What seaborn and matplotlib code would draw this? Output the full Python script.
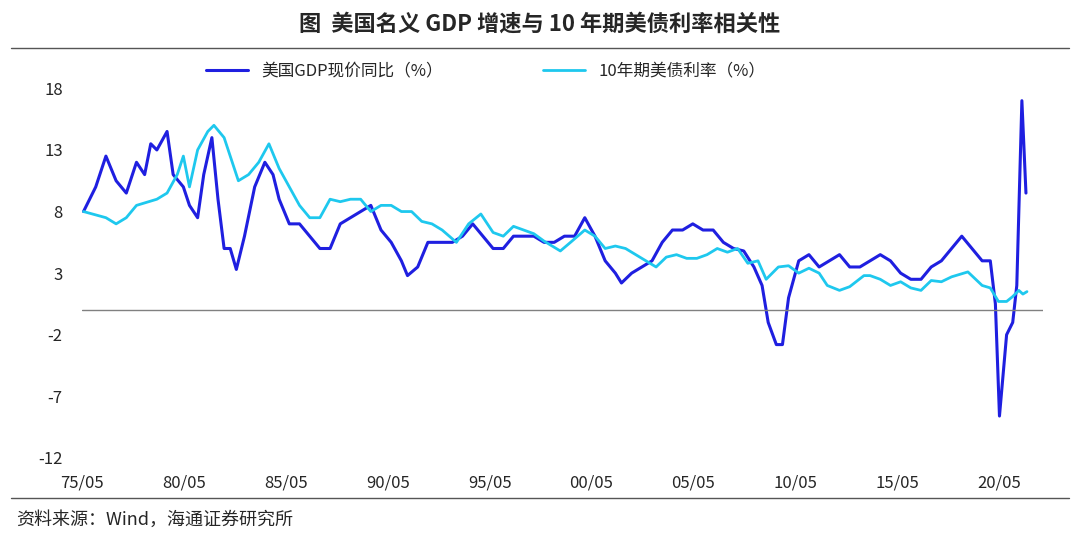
import numpy as np
import pandas as pd
import matplotlib
matplotlib.use("Agg")
import matplotlib.pyplot as plt
import seaborn as sns

gdp_t = [1975.4, 1976, 1976.5, 1977, 1977.5, 1978, 1978.4, 1978.7, 1979, 1979.5, 1979.8, 1980.3, 1980.6, 1981,
         1981.3, 1981.7, 1982, 1982.3, 1982.6, 1982.9, 1983.3, 1983.8, 1984.3, 1984.7, 1985, 1985.5, 1986, 1986.5,
         1987, 1987.5, 1988, 1988.5, 1989, 1989.5, 1990, 1990.5, 1991, 1991.3, 1991.8, 1992.3, 1993, 1993.5, 1994,
         1994.5, 1995, 1995.5, 1996, 1996.5, 1997, 1997.5, 1998, 1998.5, 1999, 1999.5, 2000, 2000.5, 2001, 2001.5,
         2001.8, 2002.3, 2002.8, 2003.3, 2003.8, 2004.3, 2004.8, 2005.3, 2005.8, 2006.3, 2006.8, 2007.3, 2007.8,
         2008.3, 2008.7, 2009, 2009.4, 2009.7, 2010, 2010.5, 2011, 2011.5, 2012, 2012.5, 2013, 2013.5, 2014, 2014.5,
         2015, 2015.5, 2016, 2016.5, 2017, 2017.5, 2018, 2018.5, 2019, 2019.5, 2019.9, 2020.15, 2020.35, 2020.7,
         2021, 2021.2, 2021.45, 2021.65]
gdp_v = [8, 10, 12.5, 10.5, 9.5, 12, 11, 13.5, 13, 14.5, 11, 10, 8.5, 7.5,
         11, 14, 9, 5, 5, 3.3, 6, 10, 12, 11, 9, 7, 7, 6,
         5, 5, 7, 7.5, 8, 8.5, 6.5, 5.5, 4, 2.8, 3.5, 5.5, 5.5, 5.5, 6,
         7, 6, 5, 5, 6, 6, 6, 5.5, 5.5, 6, 6, 7.5, 6, 4, 3,
         2.2, 3, 3.5, 4, 5.5, 6.5, 6.5, 7, 6.5, 6.5, 5.5, 5, 4.8,
         3.5, 2, -1, -2.8, -2.8, 1, 4, 4.5, 3.5, 4, 4.5, 3.5, 3.5, 4, 4.5,
         4, 3, 2.5, 2.5, 3.5, 4, 5, 6, 5, 4, 4, 0.5, -8.6, -2,
         -1, 2, 17, 9.5]

ust_t = [1975.4, 1976.5, 1977, 1977.5, 1978, 1979, 1979.5, 1980, 1980.3, 1980.6, 1981, 1981.5, 1981.8, 1982.3,
         1982.7, 1983, 1983.5, 1984, 1984.5, 1985, 1985.5, 1986, 1986.5, 1987, 1987.5, 1988, 1988.5, 1989, 1989.5,
         1990, 1990.5, 1991, 1991.5, 1992, 1992.5, 1993, 1993.7, 1994.3, 1994.9, 1995.5, 1996, 1996.5, 1997, 1997.5,
         1998, 1998.8, 1999.3, 2000, 2000.5, 2001, 2001.5, 2002, 2002.5, 2003, 2003.5, 2004, 2004.5, 2005, 2005.5,
         2006, 2006.5, 2007, 2007.5, 2008, 2008.5, 2008.9, 2009.5, 2010, 2010.5, 2011, 2011.5, 2011.9, 2012.5, 2013,
         2013.7, 2014, 2014.5, 2015, 2015.5, 2016, 2016.5, 2017, 2017.5, 2018, 2018.8, 2019.5, 2019.9, 2020.3,
         2020.7, 2021, 2021.3, 2021.5, 2021.7]
ust_v = [8, 7.5, 7, 7.5, 8.5, 9, 9.5, 11, 12.5, 10, 13, 14.5, 15, 14,
         12, 10.5, 11, 12, 13.5, 11.5, 10, 8.5, 7.5, 7.5, 9, 8.8, 9, 9, 8,
         8.5, 8.5, 8, 8, 7.2, 7, 6.5, 5.5, 7, 7.8, 6.3, 6, 6.8, 6.5, 6.2,
         5.6, 4.8, 5.5, 6.5, 6, 5, 5.2, 5, 4.5, 4, 3.5, 4.3, 4.5, 4.2, 4.2,
         4.5, 5, 4.7, 5, 3.8, 4, 2.5, 3.5, 3.6, 3, 3.4, 3, 2, 1.6, 1.9,
         2.8, 2.8, 2.5, 2, 2.3, 1.8, 1.6, 2.4, 2.3, 2.7, 3.1, 2, 1.8, 0.7,
         0.7, 1.1, 1.6, 1.3, 1.5]

yticks = [18, 13, 8, 3, -2, -7, -12]
ytick_labels = ["18", "13", "8", "3", "-2", "-7", "-12"]
xtick_years = [1975, 1980, 1985, 1990, 1995, 2000, 2005, 2010, 2015, 2020]
xtick_labels = ["75/05", "80/05", "85/05", "90/05", "95/05", "00/05", "05/05", "10/05", "15/05", "20/05"]

sns.set_style("white")
plt.rcParams['font.family'] = ['Noto Sans CJK SC', 'DejaVu Sans']

fig = plt.figure(figsize=(10.8, 5.4), dpi=100)
ax = fig.add_axes([0.076, 0.152, 0.89, 0.73])

gdp = pd.DataFrame({"t": gdp_t, "v": gdp_v})
ust = pd.DataFrame({"t": ust_t, "v": ust_v})
sns.lineplot(data=gdp, x="t", y="v", ax=ax, color="#1f1fe0", lw=2.2, label="美国GDP现价同比（%）")
sns.lineplot(data=ust, x="t", y="v", ax=ax, color="#1ec8ee", lw=2.0, label="10年期美债利率（%）")
ax.axhline(0, color="#808080", lw=1)

ax.set_xlim(1975.33, 2022.5)
ax.set_ylim(-12, 20)
ax.set_yticks(yticks)
ax.set_yticklabels(ytick_labels)
ax.set_xticks([y + 0.33 for y in xtick_years])
ax.set_xticklabels(xtick_labels)
ax.tick_params(axis="both", labelsize=12, length=0)
ax.tick_params(axis="x", pad=12)
ax.tick_params(axis="y", pad=14)
ax.set_xlabel("")
ax.set_ylabel("")
for s in ax.spines.values():
    s.set_visible(False)
ax.legend(loc="upper center", ncol=2, frameon=False, fontsize=12, bbox_to_anchor=(0.42, 1.04),
          columnspacing=6, handlelength=2.5)

fig.text(0.5, 0.955, "图  美国名义 GDP 增速与 10 年期美债利率相关性", ha="center", va="center",
         fontsize=16, fontweight="bold")
fig.add_artist(plt.Line2D([0.01, 0.99], [0.911, 0.911], color="#555555", lw=1))
fig.add_artist(plt.Line2D([0.01, 0.99], [0.078, 0.078], color="#555555", lw=1))
fig.text(0.015, 0.038, "资料来源：Wind，海通证券研究所", fontsize=13, va="center")

fig.savefig("out.png", dpi=100)
